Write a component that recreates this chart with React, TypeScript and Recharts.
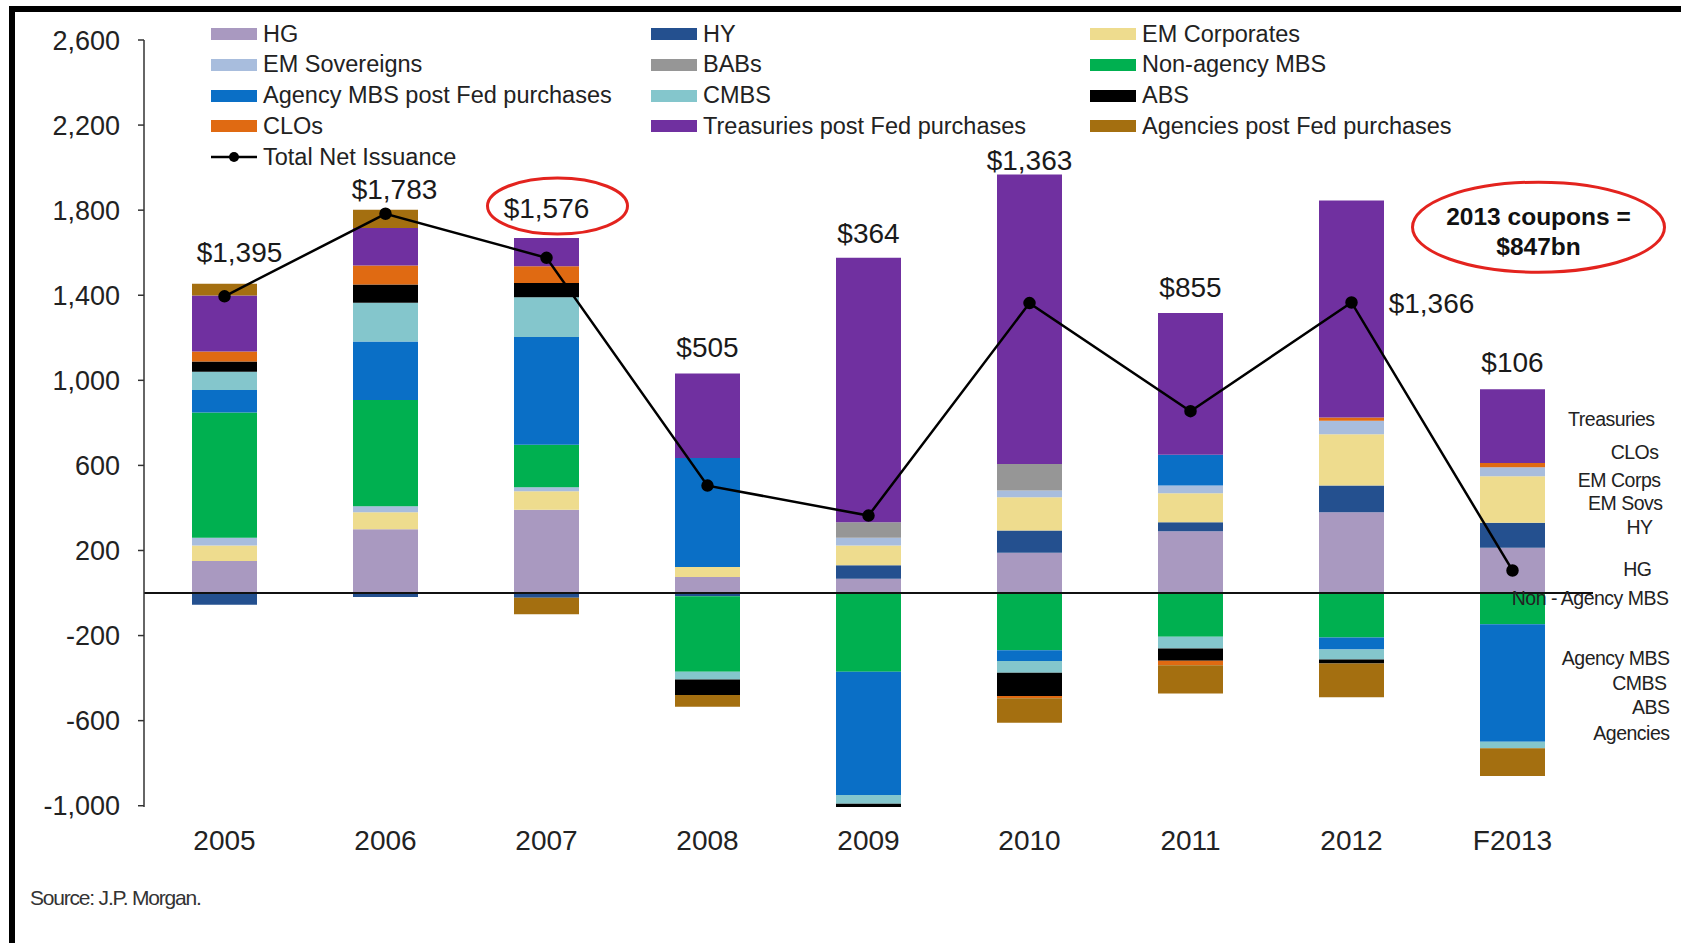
import React from 'react';
import { ComposedChart, Bar, Line, XAxis, YAxis, ReferenceLine, ReferenceDot, LabelList } from 'recharts';

const categories = ['2005', '2006', '2007', '2008', '2009', '2010', '2011', '2012', 'F2013'];

const hg = [150, 300, 391, 75, 67, 189, 291, 380, 213];
const hy = [-55, -19, -22, -15, 63, 105, 42, 125, 117];
const emCorporates = [74, 80, 87, 47, 94, 156, 136, 242, 219];
const emSovereigns = [36, 28, 19, 0, 36, 32, 36, 63, 42];
const babs = [0, 0, 0, 0, 73, 125, 0, 0, 0];
const nonAgencyMbs = [589, 499, 200, -355, -370, -269, -206, -209, -147];
const agencyMbs = [105, 275, 507, 513, -579, -51, 145, -56, -552];
const cmbs = [86, 183, 187, -36, -42, -55, -55, -47, -31];
const abs = [48, 86, 67, -74, -15, -109, -58, -19, 0];
const clos = [47, 89, 78, 0, 0, -11, -20, 15, 20];
const treasuries = [264, 176, 133, 397, 1243, 1361, 667, 1020, 347];
const agencies = [55, 86, -78, -55, 0, -115, -133, -159, -130];

const totalNetIssuance = [1395, 1783, 1576, 505, 364, 1363, 855, 1366, 106];
// where the "$" total labels sit, in axis units
const totalLabelAt = [1600, 1895, 1810, 1153, 1690, 2035, 1435, 1360, 1085];

const yTicks = [-1000, -600, -200, 200, 600, 1000, 1400, 1800, 2200, 2600];

const sideLabels = [
  { text: 'Treasuries', at: 819 },
  { text: 'CLOs', at: 664 },
  { text: 'EM Corps', at: 530 },
  { text: 'EM Sovs', at: 424 },
  { text: 'HY', at: 310 },
  { text: 'HG', at: 112 },
  { text: 'Non - Agency MBS', at: -25 },
  { text: 'Agency MBS', at: -306 },
  { text: 'CMBS', at: -422 },
  { text: 'ABS', at: -536 },
  { text: 'Agencies', at: -660 },
];
const sideLabelDx = [142, 146, 148, 150, 140, 139, 156, 157, 154, 157, 157];

const couponNote = ['2013 coupons =', '$847bn'];
const couponAt = 1720;

const series = [
  { key: 'hg', name: 'HG', color: '#A999C0', values: hg },
  { key: 'hy', name: 'HY', color: '#24508F', values: hy },
  { key: 'emc', name: 'EM Corporates', color: '#EEDC8E', values: emCorporates },
  { key: 'ems', name: 'EM Sovereigns', color: '#A8BDDD', values: emSovereigns },
  { key: 'babs', name: 'BABs', color: '#969696', values: babs },
  { key: 'nonag', name: 'Non-agency MBS', color: '#00B050', values: nonAgencyMbs },
  { key: 'agmbs', name: 'Agency MBS post Fed purchases', color: '#0A6FC6', values: agencyMbs },
  { key: 'cmbs', name: 'CMBS', color: '#84C6CC', values: cmbs },
  { key: 'abs', name: 'ABS', color: '#000000', values: abs },
  { key: 'clos', name: 'CLOs', color: '#E06A12', values: clos },
  { key: 'tsy', name: 'Treasuries post Fed purchases', color: '#7030A0', values: treasuries },
  { key: 'agcy', name: 'Agencies post Fed purchases', color: '#A46F10', values: agencies },
];

const data = categories.map((c, i) => {
  const row: any = {
    category: c,
    total: totalNetIssuance[i],
    labelAt: totalLabelAt[i],
    label: '$' + totalNetIssuance[i].toLocaleString('en-US'),
  };
  series.forEach((s) => {
    row[s.key] = s.values[i];
  });
  return row;
});

const FONT = '"Liberation Sans", Arial, Helvetica, sans-serif';
const labelNudge: Record<string, number> = { '2005': 15, '2006': 9, '2012': 80 };

const TotalLabel = (props: any) => {
  const { x, y, value, index } = props;
  const nudge = labelNudge[categories[index]] || 0;
  return (
    <text x={x + nudge} y={y} textAnchor="middle" dominantBaseline="central" fontSize={28} fill="#1a1a1a" fontFamily={FONT}>
      {value}
    </text>
  );
};

const legendItems = [...series.map((s) => ({ name: s.name, color: s.color, line: false })), { name: 'Total Net Issuance', color: '#000', line: true }];
const legendColX = [211, 651, 1090];

export default function App() {
  return (
    <div style={{ position: 'absolute', left: 0, top: 0, width: 1681, height: 943, background: '#fff', fontFamily: FONT, overflow: 'hidden' }}>
      <div style={{ position: 'absolute', left: 9, top: 6, right: 0, bottom: 0, borderLeft: '6px solid #000', borderTop: '6px solid #000' }} />
      <div style={{ position: 'absolute', left: 0, top: 0 }}>
        <ComposedChart width={1681} height={943} data={data} stackOffset="sign" margin={{ top: 40, right: 88, left: 0, bottom: 76 }}>
          <XAxis dataKey="category" axisLine={false} tickLine={false} tickSize={0} tickMargin={23} height={60} interval={0} tick={{ fill: '#222', fontSize: 28, fontFamily: FONT }} />
          <YAxis
            type="number"
            domain={[-1000, 2600]}
            ticks={yTicks}
            interval={0}
            width={144}
            tickSize={6}
            tickMargin={18}
            axisLine={{ stroke: '#333', strokeWidth: 1.5 }}
            tickLine={{ stroke: '#333', strokeWidth: 1.5 }}
            tick={{ fill: '#222', fontSize: 27, fontFamily: FONT }}
            tickFormatter={(v: number) => v.toLocaleString('en-US')}
          />
          {series.map((s) => (
            <Bar key={s.key} dataKey={s.key} name={s.name} stackId="a" fill={s.color} barSize={65} isAnimationActive={false} />
          ))}
          <ReferenceLine y={0} stroke="#111" strokeWidth={2} />
          <Line dataKey="total" name="Total Net Issuance" stroke="#000" strokeWidth={2.5} dot={{ r: 5, fill: '#000', stroke: '#000' }} activeDot={false} isAnimationActive={false} />
          <Line dataKey="labelAt" stroke="none" dot={false} activeDot={false} legendType="none" isAnimationActive={false}>
            <LabelList dataKey="label" content={<TotalLabel />} />
          </Line>
          <ReferenceDot
            x="2007"
            y={totalLabelAt[2]}
            ifOverflow="visible"
            shape={(p: any) => <ellipse cx={p.cx + 11} cy={p.cy - 2} rx={70} ry={28} fill="none" stroke="#E3231E" strokeWidth={3} />}
          />
          <ReferenceDot
            x="F2013"
            y={couponAt}
            ifOverflow="visible"
            shape={(p: any) => (
              <g>
                <ellipse cx={p.cx + 26} cy={p.cy} rx={126} ry={45} fill="none" stroke="#E3231E" strokeWidth={3} />
                <text x={p.cx + 26} y={p.cy - 11} textAnchor="middle" dominantBaseline="central" fontSize={24.5} fontWeight="bold" fill="#111" fontFamily={FONT}>
                  {couponNote[0]}
                </text>
                <text x={p.cx + 26} y={p.cy + 19} textAnchor="middle" dominantBaseline="central" fontSize={24.5} fontWeight="bold" fill="#111" fontFamily={FONT}>
                  {couponNote[1]}
                </text>
              </g>
            )}
          />
          {sideLabels.map((l, i) => (
            <ReferenceDot
              key={l.text}
              x="F2013"
              y={l.at}
              ifOverflow="visible"
              shape={(p: any) => (
                <text x={p.cx + sideLabelDx[i]} y={p.cy} textAnchor="end" dominantBaseline="central" fontSize={19.5} letterSpacing={-0.5} fill="#222" fontFamily={FONT}>
                  {l.text}
                </text>
              )}
            />
          ))}
        </ComposedChart>
      </div>
      {legendItems.map((it, i) => {
        const col = i % 3;
        const row = Math.floor(i / 3);
        const cy = 34 + row * 30.8;
        const x = legendColX[col];
        return (
          <div key={it.name} style={{ position: 'absolute', left: x, top: cy - 14, height: 28, display: 'flex', alignItems: 'center', whiteSpace: 'nowrap' }}>
            {it.line ? (
              <svg width={46} height={14} style={{ display: 'block' }}>
                <line x1={0} y1={7} x2={46} y2={7} stroke="#000" strokeWidth={2.5} />
                <circle cx={23} cy={7} r={5} fill="#000" />
              </svg>
            ) : (
              <div style={{ width: 46, height: 12, background: it.color }} />
            )}
            <span style={{ marginLeft: 6, fontSize: 23.5, color: '#222' }}>{it.name}</span>
          </div>
        );
      })}
      <div style={{ position: 'absolute', left: 30, top: 886, fontSize: 21, letterSpacing: -1.2, color: '#333', whiteSpace: 'nowrap' }}>Source: J.P. Morgan.</div>
    </div>
  );
}
